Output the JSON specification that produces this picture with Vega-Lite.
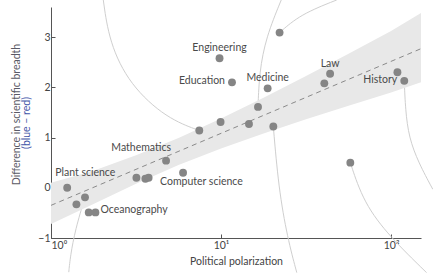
{
  "$schema": "https://vega.github.io/schema/vega-lite/v6.json",
  "autosize": "none",
  "width": 370,
  "height": 231,
  "padding": {"left": 51, "top": 7, "right": 12, "bottom": 35},
  "config": {"view": {"stroke": null}, "font": "Lato"},
  "title": {"text": "Difference in scientific breadth", "orient": "left", "anchor": "middle", "fontSize": 10.5, "fontWeight": "normal", "color": "#5a5a66", "font": "Lato", "offset": -1, "dx": 8},
  "datasets": {
    "pts": [
      {"x": 1.245, "y": 0.0, "label": "Plant science"},
      {"x": 1.411, "y": -0.33, "label": ""},
      {"x": 1.585, "y": -0.19, "label": ""},
      {"x": 1.667, "y": -0.49, "label": ""},
      {"x": 1.825, "y": -0.49, "label": "Oceanography"},
      {"x": 3.18, "y": 0.2, "label": ""},
      {"x": 3.59, "y": 0.18, "label": ""},
      {"x": 3.75, "y": 0.2, "label": ""},
      {"x": 4.75, "y": 0.54, "label": "Mathematics"},
      {"x": 5.98, "y": 0.3, "label": "Computer science"},
      {"x": 7.45, "y": 1.14, "label": ""},
      {"x": 9.94, "y": 1.31, "label": ""},
      {"x": 14.6, "y": 1.27, "label": ""},
      {"x": 16.5, "y": 1.61, "label": ""},
      {"x": 20.3, "y": 1.22, "label": ""},
      {"x": 9.8, "y": 2.58, "label": "Engineering"},
      {"x": 11.6, "y": 2.1, "label": "Education"},
      {"x": 18.8, "y": 1.98, "label": "Medicine"},
      {"x": 22.1, "y": 3.09, "label": ""},
      {"x": 43.8, "y": 2.27, "label": "Law"},
      {"x": 40.5, "y": 2.08, "label": ""},
      {"x": 109, "y": 2.3, "label": ""},
      {"x": 119.6, "y": 2.13, "label": "History"},
      {"x": 57.6, "y": 0.5, "label": ""}
    ],
    "band": [
      {"x": 1, "lo": -0.72, "hi": 0.1},
      {"x": 1.778, "lo": -0.3225, "hi": 0.3375},
      {"x": 3.162, "lo": 0.082, "hi": 0.648},
      {"x": 5.623, "lo": 0.4515, "hi": 0.9935},
      {"x": 10, "lo": 0.782, "hi": 1.378},
      {"x": 17.78, "lo": 1.0815, "hi": 1.7935},
      {"x": 31.62, "lo": 1.363, "hi": 2.227},
      {"x": 56.23, "lo": 1.6345, "hi": 2.6705},
      {"x": 100, "lo": 1.899, "hi": 3.121},
      {"x": 150, "lo": 2.1, "hi": 3.48}
    ],
    "fit": [
      {"x": 1, "y": -0.35},
      {"x": 150, "y": 2.77}
    ],
    "curves": [
      {"c": 1, "i": 0, "x": 2.03, "y": 3.74},
      {"c": 1, "i": 1, "x": 2.2, "y": 2.9},
      {"c": 1, "i": 2, "x": 2.9, "y": 2.05},
      {"c": 1, "i": 3, "x": 4.8, "y": 1.38},
      {"c": 1, "i": 4, "x": 7.45, "y": 1.14},
      {"c": 2, "i": 0, "x": 22.6, "y": 3.74},
      {"c": 2, "i": 1, "x": 18.4, "y": 3.0},
      {"c": 2, "i": 2, "x": 16.8, "y": 2.3},
      {"c": 2, "i": 3, "x": 16.5, "y": 1.61},
      {"c": 3, "i": 0, "x": 20.3, "y": 1.22},
      {"c": 3, "i": 1, "x": 21.8, "y": 0.0},
      {"c": 3, "i": 2, "x": 24.6, "y": -1.0},
      {"c": 3, "i": 3, "x": 27.9, "y": -1.69},
      {"c": 4, "i": 0, "x": 22.1, "y": 3.09},
      {"c": 4, "i": 1, "x": 29.2, "y": 3.45},
      {"c": 4, "i": 2, "x": 47.9, "y": 3.74},
      {"c": 5, "i": 0, "x": 119.6, "y": 2.13},
      {"c": 5, "i": 1, "x": 121.5, "y": 1.55},
      {"c": 5, "i": 2, "x": 127.4, "y": 1.0},
      {"c": 5, "i": 3, "x": 145, "y": 0.5},
      {"c": 5, "i": 4, "x": 176, "y": -0.03},
      {"c": 6, "i": 0, "x": 57.6, "y": 0.5},
      {"c": 6, "i": 1, "x": 69, "y": -0.3},
      {"c": 6, "i": 2, "x": 98.5, "y": -0.98},
      {"c": 6, "i": 3, "x": 161.8, "y": -1.69},
      {"c": 7, "i": 0, "x": 1.585, "y": -0.187},
      {"c": 7, "i": 1, "x": 1.39, "y": -0.83},
      {"c": 7, "i": 2, "x": 1.3, "y": -1.36},
      {"c": 7, "i": 3, "x": 1.272, "y": -1.68}
    ]
  },
  "encoding": {
    "x": {
      "field": "x", "type": "quantitative",
      "scale": {"type": "log", "domain": [1, 150], "nice": false},
      "axis": {
        "title": "Political polarization", "values": [1, 10, 100],
        "labelExpr": "datum.value == 1 ? '10⁰' : datum.value == 10 ? '10¹' : '10²'",
        "grid": false, "domainColor": "#555", "tickColor": "#555", "tickSize": -4,
        "labelPadding": 6, "labelFontSize": 10.5, "labelColor": "#444", "labelFont": "Lato",
        "titleFontSize": 10.5, "titleFontWeight": "normal", "titleColor": "#444", "titleFont": "Lato", "titlePadding": 6
      }
    },
    "y": {
      "field": "y", "type": "quantitative",
      "scale": {"domain": [-1, 3.6], "nice": false, "zero": false},
      "axis": {
        "title": "(blue – red)", "values": [-1, 0, 1, 2, 3],
        "grid": false, "domainColor": "#555", "tickColor": "#555", "tickSize": -4,
        "labelPadding": 5, "labelFontSize": 10.5, "labelColor": "#444", "labelFont": "Lato",
        "titleFontSize": 10.5, "titleFontWeight": "normal", "titleColor": "#3f55a8", "titleFont": "Lato", "titlePadding": 6
      }
    }
  },
  "layer": [
    {
      "data": {"name": "curves"},
      "mark": {"type": "line", "interpolate": "basis", "color": "#cfcfcf", "strokeWidth": 1},
      "encoding": {"detail": {"field": "c"}, "order": {"field": "i"}}
    },
    {
      "data": {"name": "band"},
      "mark": {"type": "area", "color": "#e8e8e8", "opacity": 1},
      "encoding": {"y": {"field": "lo", "type": "quantitative"}, "y2": {"field": "hi"}}
    },
    {
      "data": {"name": "fit"},
      "mark": {"type": "line", "color": "#8a8a8a", "strokeWidth": 1, "strokeDash": [5, 4]},
      "encoding": {}
    },
    {
      "data": {"name": "pts"},
      "mark": {"type": "circle", "size": 62, "color": "#858585", "opacity": 1},
      "encoding": {}
    },
    {
      "data": {"name": "pts"},
      "transform": [{"filter": {"field": "label", "oneOf": ["Engineering", "Medicine", "Law"]}}],
      "mark": {"type": "text", "align": "center", "baseline": "middle", "dy": -10, "fontSize": 10.5, "color": "#4a4a4a"},
      "encoding": {"text": {"field": "label"}}
    },
    {
      "data": {"name": "pts"},
      "transform": [{"filter": {"field": "label", "oneOf": ["Education", "History"]}}],
      "mark": {"type": "text", "align": "right", "baseline": "middle", "dx": -7, "dy": -1, "fontSize": 10.5, "color": "#4a4a4a"},
      "encoding": {"text": {"field": "label"}}
    },
    {
      "data": {"name": "pts"},
      "transform": [{"filter": {"field": "label", "equal": "Plant science"}}],
      "mark": {"type": "text", "align": "left", "baseline": "middle", "dx": -12, "dy": -15, "fontSize": 10.5, "color": "#4a4a4a"},
      "encoding": {"text": {"field": "label"}}
    },
    {
      "data": {"name": "pts"},
      "transform": [{"filter": {"field": "label", "equal": "Mathematics"}}],
      "mark": {"type": "text", "align": "right", "baseline": "middle", "dx": 5, "dy": -13, "fontSize": 10.5, "color": "#4a4a4a"},
      "encoding": {"text": {"field": "label"}}
    },
    {
      "data": {"name": "pts"},
      "transform": [{"filter": {"field": "label", "equal": "Computer science"}}],
      "mark": {"type": "text", "align": "left", "baseline": "middle", "dx": -23, "dy": 9, "fontSize": 10.5, "color": "#4a4a4a"},
      "encoding": {"text": {"field": "label"}}
    },
    {
      "data": {"name": "pts"},
      "transform": [{"filter": {"field": "label", "equal": "Oceanography"}}],
      "mark": {"type": "text", "align": "left", "baseline": "middle", "dx": 5, "dy": -2, "fontSize": 10.5, "color": "#4a4a4a"},
      "encoding": {"text": {"field": "label"}}
    }
  ]
}
